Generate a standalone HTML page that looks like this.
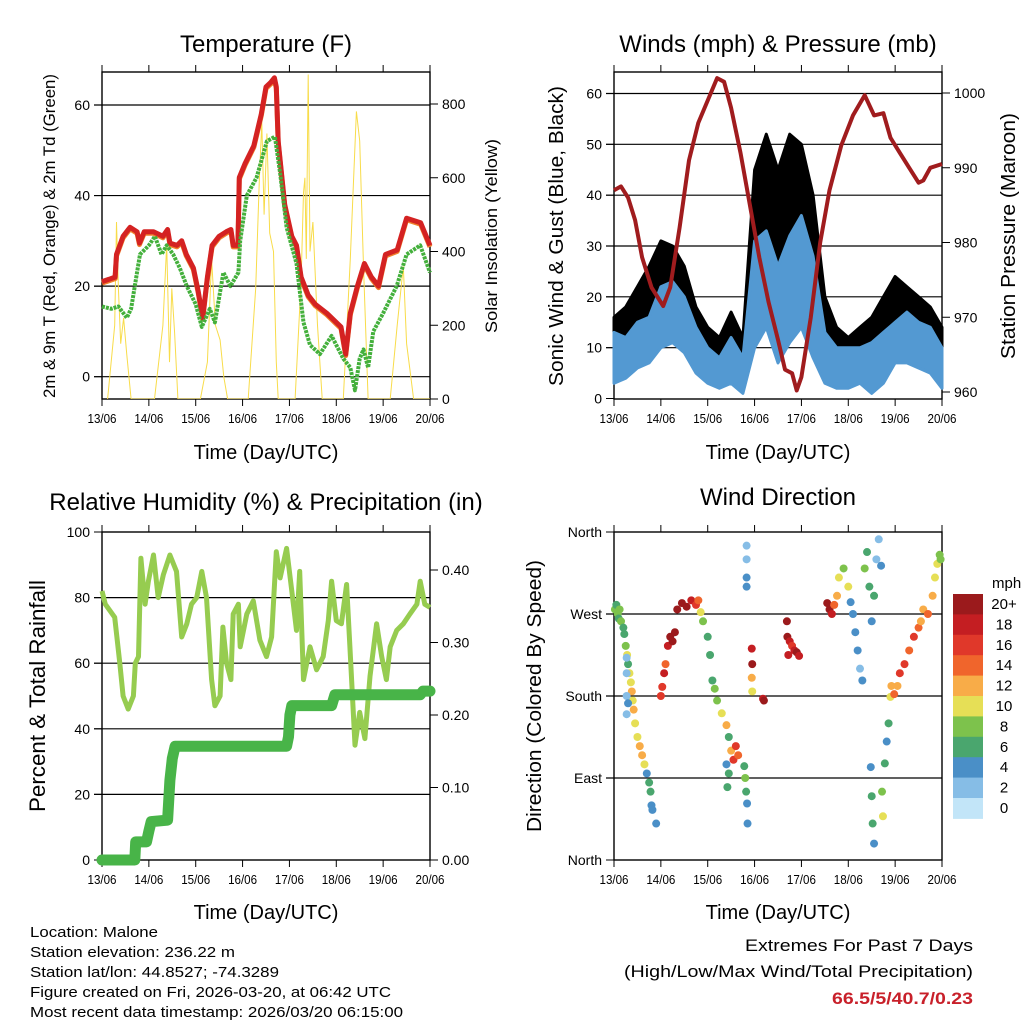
<!DOCTYPE html>
<html><head><meta charset="utf-8"><style>
html,body{margin:0;padding:0;background:#fff}
svg{display:block;font-family:"Liberation Sans",sans-serif}
</style></head><body>
<svg id="chart" width="1024" height="1024" viewBox="0 0 1024 1024" xmlns="http://www.w3.org/2000/svg"></svg>
<script>
// ---------------- DATA ----------------
const dayLabels=["13/06","14/06","15/06","16/06","17/06","18/06","19/06","20/06"];
// Temperature (F) [day offset, value]
const tempT=[[0,21],[0.15,21.5],[0.28,22],[0.31,27],[0.45,31],[0.6,33],[0.75,32],[0.8,29.5],[0.9,32],[1.1,32],[1.3,31],[1.4,32.5],[1.45,29.5],[1.6,29],[1.7,30],[1.8,27],[1.95,24],[2.05,19],[2.15,13],[2.25,22],[2.35,29],[2.5,31],[2.65,32],[2.75,32.5],[2.8,29],[2.9,29],[2.93,44],[3.05,47],[3.24,51],[3.4,58],[3.5,64],[3.6,65],[3.68,66],[3.72,64],[3.76,52],[3.9,38],[4.05,31],[4.15,29],[4.25,22],[4.4,18],[4.55,16],[4.8,14],[5.0,12],[5.1,11],[5.2,5],[5.3,14],[5.45,20],[5.6,25],[5.75,22],[5.9,20],[6.05,27],[6.3,28],[6.5,35],[6.8,34],[7,29]];
const tempTd=[[0,15.5],[0.2,15],[0.35,15.5],[0.53,13],[0.62,15],[0.7,20],[0.81,27],[1.0,29],[1.13,31],[1.27,27],[1.38,29],[1.52,27],[1.66,24],[1.81,20],[2.0,16],[2.13,11],[2.3,15],[2.41,12],[2.59,23],[2.74,20],[2.91,23],[2.95,30],[3.09,40],[3.3,44],[3.52,52],[3.69,53],[3.8,45],[3.94,33],[4.15,25],[4.3,12],[4.44,7],[4.65,5],[4.9,9],[5.15,4],[5.3,2],[5.4,-3],[5.5,4],[5.58,6],[5.68,2],[5.79,10],[6.0,14],[6.29,20],[6.5,27],[6.79,29],[7,23]];
const solar=[[0.12,0],[0.27,200],[0.31,480],[0.35,300],[0.4,150],[0.46,220],[0.53,120],[0.62,0],[1.12,0],[1.3,200],[1.38,420],[1.44,100],[1.49,300],[1.55,180],[1.62,0],[2.1,0],[2.25,100],[2.34,380],[2.42,200],[2.52,160],[2.6,60],[2.68,0],[3.12,0],[3.28,300],[3.36,600],[3.41,750],[3.46,500],[3.52,720],[3.58,450],[3.66,400],[3.72,100],[3.76,0],[4.12,0],[4.25,320],[4.3,560],[4.33,600],[4.36,380],[4.4,880],[4.44,400],[4.5,480],[4.6,200],[4.7,0],[5.15,0],[5.3,380],[5.43,780],[5.5,700],[5.58,360],[5.68,0],[6.15,0],[6.3,200],[6.43,360],[6.5,150],[6.57,80],[6.65,0],[7,0]];
// Winds (mph) & pressure (mb)
const windDays=[0,0.25,0.5,0.75,1.0,1.25,1.5,1.75,2.0,2.25,2.5,2.75,3.0,3.25,3.5,3.75,4.0,4.25,4.5,4.75,5.0,5.25,5.5,5.75,6.0,6.25,6.5,6.75,7.0];
const sonicLow=[3,4,6,7,10,11,9,5,3,2,3,1,10,14,7,11,14,8,3,2,2,3,1,3,7,7,6,5,2];
const sonicHigh=[13,12,15,16,22,23,20,14,10,8,12,8,31,33,26,32,36,28,13,10,10,10,11,13,15,17,15,14,10];
const gustLow=[8,9,11,12,15,16,13,7,5,4,5,3,25,28,17,26,28,18,7,5,5,5,5,7,11,12,10,8,4];
const gustHigh=[16,18,22,26,31,30,26,18,14,12,17,12,45,52,45,52,50,40,20,14,12,14,16,20,24,22,20,18,14];
const pressure=[[0,987],[0.15,987.5],[0.3,986],[0.45,983],[0.6,978],[0.8,974],[1.05,971.5],[1.2,974],[1.4,982],[1.6,991],[1.8,996],[2.0,999],[2.2,1002],[2.35,1001.5],[2.5,998],[2.7,992],[2.9,985],[3.1,978],[3.3,972],[3.5,967],[3.65,963],[3.8,962.5],[3.9,960.2],[4.0,962],[4.2,970],[4.4,980],[4.6,987],[4.85,993],[5.1,997],[5.35,999.7],[5.55,997],[5.75,997.3],[5.9,994],[6.1,992],[6.3,990],[6.5,988],[6.6,988.3],[6.75,990],[7,990.5]];
// Relative humidity (%) & precipitation (in)
const rh=[[0,82],[0.07,78],[0.27,74],[0.38,60],[0.45,50],[0.56,46],[0.67,50],[0.71,60],[0.78,62],[0.83,92],[0.92,78],[0.99,85],[1.1,93],[1.2,80],[1.31,87],[1.45,93],[1.59,88],[1.7,68],[1.81,72],[1.91,78],[2.02,80],[2.13,88],[2.23,80],[2.34,55],[2.41,47],[2.52,50],[2.58,71],[2.66,60],[2.75,55],[2.8,75],[2.91,78],[2.95,65],[3.09,75],[3.23,79],[3.37,67],[3.51,62],[3.62,68],[3.72,94],[3.8,86],[3.94,95],[4.05,82],[4.15,70],[4.22,88],[4.3,55],[4.44,65],[4.58,58],[4.72,62],[4.83,73],[4.9,85],[5.0,73],[5.11,72],[5.22,84],[5.29,65],[5.4,35],[5.5,45],[5.61,37],[5.72,56],[5.86,72],[5.97,62],[6.07,55],[6.15,65],[6.29,70],[6.43,72],[6.57,75],[6.72,78],[6.79,85],[6.89,78],[7,77]];
const precip=[[0,0],[0.7,0],[0.72,0.025],[0.95,0.025],[1.0,0.04],[1.05,0.053],[1.4,0.055],[1.45,0.11],[1.5,0.14],[1.56,0.157],[3.94,0.157],[3.98,0.17],[4.01,0.2],[4.05,0.213],[4.9,0.213],[4.97,0.228],[6.79,0.228],[6.85,0.233],[7,0.233]];
// Wind direction: day, degrees (0=N bottom, 360=N top), speed mph
const dirDay=[0.02,0.05,0.08,0.1,0.12,0.15,0.2,0.22,0.25,0.28,0.3,0.33,0.36,0.38,0.4,0.42,0.45,0.5,0.55,0.6,0.65,0.7,0.75,0.78,0.8,0.27,0.27,0.27,0.27,0.3,0.82,0.9,
1.0,1.03,1.07,1.1,1.15,1.2,1.25,1.3,1.35,1.45,1.55,1.65,1.75,1.8,1.85,
1.9,2.0,2.05,2.1,2.15,2.2,2.3,2.4,2.45,2.5,2.55,2.6,2.65,2.4,2.42,2.45,2.78,2.8,2.82,2.84,2.85,2.83,2.83,2.83,2.83,
2.94,2.94,2.95,2.95,3.18,3.2,3.69,3.7,3.72,3.75,3.8,3.85,3.9,3.95,
4.55,4.6,4.65,4.7,4.76,4.8,4.9,5.0,5.05,5.1,5.15,5.2,5.25,5.3,5.35,5.4,5.45,5.5,5.55,5.6,5.65,5.7,
5.48,5.5,5.52,5.55,5.72,5.74,5.78,5.82,5.86,5.9,5.92,5.98,6.05,6.1,6.2,6.3,6.4,6.5,6.55,6.6,6.7,6.8,6.85,6.9,6.95,6.97];
const dirDeg=[275,280,270,265,275,262,255,248,235,225,215,205,195,185,175,165,150,135,125,115,105,95,85,75,60,222,205,180,160,172,55,40,
180,190,205,215,235,245,240,250,275,282,278,285,280,285,272,
262,245,225,197,188,175,161,148,135,120,110,125,115,105,80,95,103,90,75,62,40,345,330,310,300,
232,200,215,185,177,175,262,245,225,240,235,230,228,224,
282,275,270,280,290,310,320,300,283,270,250,230,210,197,320,338,300,262,290,330,352,323,
102,70,40,18,75,48,106,130,150,179,191,182,191,205,215,230,245,255,262,275,270,290,310,325,335,330];
const dirSpd=[8,7,8,6,9,8,7,6,8,10,7,10,11,12,10,12,11,10,12,12,11,5,6,6,4,2,2,2,2,4,4,4,
16,16,18,14,18,20,20,20,20,20,20,18,16,14,10,
8,6,6,6,8,8,10,12,6,12,16,16,14,4,6,6,7,8,6,4,4,2,2,4,4,
18,12,20,10,18,20,20,20,18,18,16,18,20,18,
20,20,18,14,12,10,8,10,4,4,4,4,2,4,8,6,6,4,6,2,2,4,
4,6,6,4,8,10,6,4,6,10,12,14,12,16,16,14,16,14,12,12,14,12,10,10,8,8];
const speedTicks=["20+","18","16","14","12","10","8","6","4","2","0"];
const speedColors=["#9b1a1c","#c41e22","#e0382a","#f0652c","#f8ac48","#e6df56","#7dc24c","#4aa66e","#4a8fc7","#86bde6","#c2e5f8"];

// ---------------- HELPERS ----------------
const NS="http://www.w3.org/2000/svg";
const svg=document.getElementById('chart');
function el(tag,attrs,parent,text){const e=document.createElementNS(NS,tag);for(const k in attrs)e.setAttribute(k,attrs[k]);if(text!==undefined)e.textContent=text;(parent||svg).appendChild(e);return e;}
function lin(d0,d1,r0,r1){return v=>r0+(v-d0)*(r1-r0)/(d1-d0);}
function pathFrom(pts,fx,fy){return pts.map((p,i)=>(i?'L':'M')+fx(p[0]).toFixed(1)+' '+fy(p[1]).toFixed(1)).join(' ');}

function panel(name,L,R,T,B,leftTicks,leftLabels,fyL,rightTicks,rightLabels,fyR,gridVals){
  const g=el('g',{});
  
  
  const fx=lin(0,7,L,R);
  gridVals.forEach(v=>{const l=el('line',{x1:L-8,x2:R,y1:fyL(v),y2:fyL(v),stroke:'#000','stroke-width':1.2},g);
    });
  const b=el('rect',{x:L,y:T,width:R-L,height:B-T,fill:'none',stroke:'#000','stroke-width':1.4},g);
  
  dayLabels.forEach((lab,i)=>{const x=fx(i);
    el('line',{x1:x,x2:x,y1:B,y2:B+7,stroke:'#000','stroke-width':1},g);
    el('line',{x1:x,x2:x,y1:T,y2:T-7,stroke:'#000','stroke-width':1},g);
    const t=el('text',{x:x,y:B+24,'font-size':13,'text-anchor':'middle',textLength:29,lengthAdjust:'spacingAndGlyphs'},g,lab);
    });
  leftTicks.forEach((v,i)=>{const y=fyL(v);
    el('line',{x1:L-8,x2:L,y1:y,y2:y,stroke:'#000','stroke-width':1},g);
    if(leftLabels){const t=el('text',{x:L-12,y:y+5,'font-size':14,'text-anchor':'end'},g,leftLabels[i]);
      }});
  if(rightTicks){rightTicks.forEach((v,i)=>{const y=fyR(v);
    el('line',{x1:R,x2:R+8,y1:y,y2:y,stroke:'#000','stroke-width':1},g);
    const t=el('text',{x:R+12,y:y+5,'font-size':14,'text-anchor':'start'},g,rightLabels[i]);
    });}
  return {g,fx};
}
function title(txt,x,y,size,name){const t=el('text',{x:x,y:y,'font-size':size,'text-anchor':'middle'},svg,txt);
  return t;}
function vtitle(txt,x,y,size,name,len){const t=el('text',{x:0,y:0,'font-size':size,'text-anchor':'middle',transform:`translate(${x},${y}) rotate(-90)`},svg,txt);
  if(len){t.setAttribute('textLength',len);t.setAttribute('lengthAdjust','spacingAndGlyphs');}
  return t;}

// ---------------- PANEL 1: TEMPERATURE ----------------
{
  const L=102,R=430,T=72,B=399;
  const fyT=lin(0,60,376.7,105), fyS=lin(0,800,399,104);
  const p=panel('temperature-panel',L,R,T,B,[0,20,40,60],['0','20','40','60'],fyT,[0,200,400,600,800],['0','200','400','600','800'],fyS,[0,20,40,60]);
  const clip=el('clipPath',{id:'c1'});el('rect',{x:L,y:T,width:R-L,height:B-T},clip);
  const s=el('path',{d:pathFrom(solar,p.fx,fyS),fill:'none',stroke:'#f8dc4a','stroke-width':1,'clip-path':'url(#c1)'});
  
  const o=el('path',{d:pathFrom(tempT,p.fx,v=>fyT(v)+1.5),fill:'none',stroke:'#f0802c','stroke-width':5,'stroke-linejoin':'round'});
  
  const r=el('path',{d:pathFrom(tempT,p.fx,fyT),fill:'none',stroke:'#d42222','stroke-width':5,'stroke-linejoin':'round'});
  
  const gr=el('path',{d:pathFrom(tempTd,p.fx,fyT),fill:'none',stroke:'#44b03c','stroke-width':4,'stroke-dasharray':'3 1','stroke-linejoin':'round'});
  
  title('Temperature (F)',266,52,24,'temperature-title');
  title('Time (Day/UTC)',266,459,20,'temperature-x-title');
  vtitle('2m & 9m T (Red, Orange) & 2m Td (Green)',55,236,17,'temperature-y-title',324);
  vtitle('Solar Insolation (Yellow)',497,236,17,'solar-y-title',194);
}
// ---------------- PANEL 2: WINDS ----------------
{
  const L=614,R=942,T=72,B=399;
  const fyW=lin(0,60,398.5,93.5), fyP=lin(960,1000,392,93);
  const p=panel('winds-panel',L,R,T,B,[0,10,20,30,40,50,60],['0','10','20','30','40','50','60'],fyW,[960,970,980,990,1000],['960','970','980','990','1000'],fyP,[10,20,30,40,50,60]);
  function band(lo,hi,col,name){
    let d='';windDays.forEach((t,i)=>{d+=(i?'L':'M')+p.fx(t).toFixed(1)+' '+fyW(hi[i]).toFixed(1);});
    for(let i=windDays.length-1;i>=0;i--)d+='L'+p.fx(windDays[i]).toFixed(1)+' '+fyW(lo[i]).toFixed(1);
    const e=el('path',{d:d+'Z',fill:col,stroke:col,'stroke-width':3,'stroke-linejoin':'round'});
    }
  band(gustLow,gustHigh,'#000','gust-band');
  band(sonicLow,sonicHigh,'#5399d2','sonic-wind-band');
  const pr=el('path',{d:pathFrom(pressure,p.fx,fyP),fill:'none',stroke:'#a01c1e','stroke-width':4,'stroke-linejoin':'round'});
  
  title('Winds (mph) & Pressure (mb)',778,52,24,'winds-title');
  title('Time (Day/UTC)',778,459,20,'winds-x-title');
  vtitle('Sonic Wind & Gust (Blue, Black)',563,236,20,'winds-y-title',300);
  vtitle('Station Pressure (Maroon)',1015,236,20,'pressure-y-title',246);
}
// ---------------- PANEL 3: RH & PRECIP ----------------
{
  const L=102,R=430,T=532,B=860;
  const fyH=lin(0,100,860,532), fyR=lin(0,0.4,860,570);
  const p=panel('humidity-panel',L,R,T,B,[0,20,40,60,80,100],['0','20','40','60','80','100'],fyH,[0,0.1,0.2,0.3,0.4],['0.00','0.10','0.20','0.30','0.40'],fyR,[20,40,60,80]);
  const h=el('path',{d:pathFrom(rh,p.fx,fyH),fill:'none',stroke:'#96cc50','stroke-width':5,'stroke-linejoin':'round'});
  
  const pc=el('path',{d:pathFrom(precip,p.fx,fyR),fill:'none',stroke:'#48b448','stroke-width':11,'stroke-linejoin':'round','stroke-linecap':'round'});
  
  title('Relative Humidity (%) & Precipitation (in)',266,510,24,'humidity-title');
  title('Time (Day/UTC)',266,919,20,'humidity-x-title');
  vtitle('Percent & Total Rainfall',45,696,22,'humidity-y-title',232);
}
// ---------------- PANEL 4: WIND DIRECTION ----------------
{
  const L=614,R=942,T=532,B=860;
  const fyD=lin(0,360,860,532);
  const p=panel('wind-direction-panel',L,R,T,B,[0,90,180,270,360],['North','East','South','West','North'],fyD,null,null,null,[90,180,270]);
  function colorFor(s){const idx=Math.min(10,Math.floor(s/2));return speedColors[10-idx];}
  dirDay.forEach((t,i)=>{
    const c=el('circle',{cx:p.fx(t),cy:fyD(dirDeg[i]),r:4,fill:colorFor(dirSpd[i])});
    
    
  });
  title('Wind Direction',778,505,24,'wind-direction-title');
  title('Time (Day/UTC)',778,919,20,'wind-direction-x-title');
  vtitle('Direction (Colored By Speed)',541,696,20,'wind-direction-y-title',272);
  const cb=el('g',{});
  
  const top=594,hh=20.4;
  speedColors.forEach((c,i)=>{el('rect',{x:953,y:top+i*hh,width:30,height:hh+0.5,fill:c},cb);
    const t=el('text',{x:1004,y:top+i*hh+15,'font-size':15,'text-anchor':'middle'},cb,speedTicks[i]);
    });
  const u=el('text',{x:992,y:588,'font-size':15},cb,'mph');
  
}
// ---------------- FOOTER ----------------
{
  const lines=["Location: Malone","Station elevation: 236.22 m","Station lat/lon: 44.8527; -74.3289","Figure created on Fri, 2026-03-20, at 06:42 UTC","Most recent data timestamp: 2026/03/20 06:15:00"];
  const lens=[128,205,249,361,373];
  lines.forEach((s,i)=>{const t=el('text',{x:30,y:937+i*20,'font-size':15,textLength:lens[i],lengthAdjust:'spacingAndGlyphs'},svg,s);
    });
  const a=el('text',{x:973,y:951,'font-size':17,'text-anchor':'end',textLength:228,lengthAdjust:'spacingAndGlyphs'},svg,'Extremes For Past 7 Days');
  
  const b=el('text',{x:973,y:977,'font-size':17,'text-anchor':'end',textLength:349,lengthAdjust:'spacingAndGlyphs'},svg,'(High/Low/Max Wind/Total Precipitation)');
  
  const c=el('text',{x:973,y:1004,'font-size':17,'font-weight':'bold','text-anchor':'end',fill:'#c8202a',textLength:141,lengthAdjust:'spacingAndGlyphs'},svg,'66.5/5/40.7/0.23');
  
}
</script>
</body></html>
